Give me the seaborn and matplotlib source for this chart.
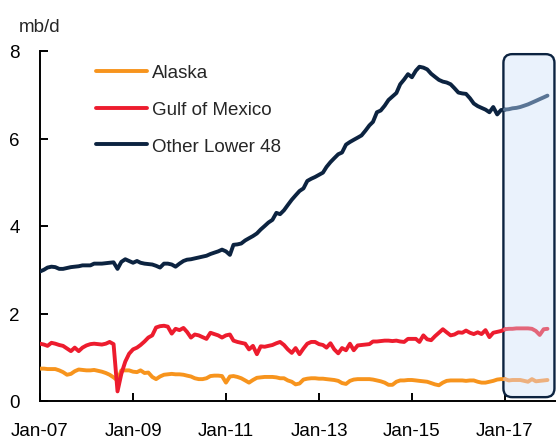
import numpy as np
import pandas as pd
import matplotlib
matplotlib.use("Agg")
import matplotlib.pyplot as plt
import matplotlib.dates as mdates
from matplotlib.patches import FancyBboxPatch
import seaborn as sns

# ---------------- data (mb/d), monthly Jan-07 .. Dec-17 ----------------
dates = pd.date_range("2007-01-01", "2017-12-01", freq="MS")
forecast_start = pd.Timestamp("2017-01-01")
series_names = ["Alaska", "Gulf of Mexico", "Other Lower 48"]

alaska = [
    0.74, 0.74, 0.73, 0.73, 0.73, 0.70, 0.66, 0.60, 0.62, 0.68, 0.72, 0.71,
    0.70, 0.70, 0.71, 0.69, 0.67, 0.64, 0.60, 0.54, 0.47, 0.70, 0.70, 0.70,
    0.67, 0.66, 0.70, 0.64, 0.65, 0.55, 0.50, 0.56, 0.60, 0.61, 0.62, 0.61,
    0.61, 0.60, 0.58, 0.56, 0.52, 0.50, 0.50, 0.52, 0.57, 0.58, 0.58, 0.57,
    0.42, 0.56, 0.57, 0.55, 0.52, 0.47, 0.42, 0.48, 0.53, 0.54, 0.55, 0.55,
    0.55, 0.54, 0.52, 0.52, 0.47, 0.44, 0.38, 0.40, 0.49, 0.51, 0.52, 0.52,
    0.51, 0.51, 0.50, 0.49, 0.48, 0.46, 0.41, 0.39, 0.46, 0.49, 0.50, 0.50,
    0.50, 0.50, 0.49, 0.47, 0.45, 0.42, 0.37, 0.37, 0.44, 0.47, 0.47, 0.48,
    0.48, 0.47, 0.46, 0.45, 0.44, 0.41, 0.38, 0.36, 0.42, 0.46, 0.47, 0.47,
    0.47, 0.47, 0.46, 0.47, 0.47, 0.44, 0.42, 0.42, 0.44, 0.46, 0.49, 0.50,
    0.50, 0.47, 0.48, 0.48, 0.48, 0.46, 0.44, 0.50, 0.45, 0.46, 0.47, 0.48,
]

gulf = [
    1.31, 1.29, 1.26, 1.33, 1.31, 1.28, 1.26, 1.20, 1.14, 1.22, 1.14, 1.22,
    1.27, 1.30, 1.31, 1.30, 1.29, 1.31, 1.35, 1.30, 0.22, 0.62, 0.90, 1.08,
    1.18, 1.22, 1.28, 1.36, 1.45, 1.50, 1.68, 1.71, 1.72, 1.70, 1.54, 1.65,
    1.62, 1.67, 1.58, 1.45, 1.52, 1.50, 1.46, 1.42, 1.56, 1.53, 1.50, 1.45,
    1.50, 1.52, 1.38, 1.35, 1.33, 1.31, 1.18, 1.26, 1.07, 1.25, 1.24, 1.26,
    1.28, 1.32, 1.35, 1.28, 1.18, 1.10, 1.21, 1.07, 1.20, 1.31, 1.35, 1.35,
    1.30, 1.28, 1.22, 1.32, 1.18, 1.09, 1.21, 1.16, 1.31, 1.16, 1.27, 1.28,
    1.29, 1.30, 1.36, 1.36, 1.37, 1.38, 1.38, 1.37, 1.38, 1.36, 1.35, 1.42,
    1.42, 1.42, 1.35, 1.50, 1.41, 1.39, 1.48, 1.56, 1.64, 1.57, 1.50, 1.52,
    1.57, 1.56, 1.61, 1.56, 1.53, 1.57, 1.53, 1.62, 1.46, 1.56, 1.58, 1.60,
    1.64, 1.65, 1.65, 1.66, 1.66, 1.66, 1.66, 1.65, 1.60, 1.51, 1.64, 1.65,
]

other_lower48 = [
    2.96, 3.00, 3.05, 3.07, 3.06, 3.02, 3.02, 3.04, 3.06, 3.07, 3.08, 3.10,
    3.10, 3.10, 3.14, 3.14, 3.14, 3.15, 3.16, 3.17, 3.02, 3.18, 3.24, 3.20,
    3.16, 3.20, 3.16, 3.14, 3.13, 3.12, 3.09, 3.05, 3.14, 3.14, 3.12, 3.07,
    3.14, 3.20, 3.23, 3.24, 3.26, 3.28, 3.30, 3.32, 3.36, 3.39, 3.42, 3.46,
    3.42, 3.34, 3.57, 3.58, 3.60, 3.67, 3.72, 3.77, 3.83, 3.92, 4.00, 4.08,
    4.14, 4.30, 4.27, 4.36, 4.48, 4.60, 4.70, 4.80, 4.86, 5.03, 5.08, 5.12,
    5.17, 5.22, 5.35, 5.46, 5.55, 5.64, 5.68, 5.86, 5.92, 5.97, 6.02, 6.07,
    6.18, 6.30, 6.38, 6.60, 6.64, 6.75, 6.88, 6.96, 7.04, 7.24, 7.35, 7.47,
    7.40, 7.55, 7.64, 7.62, 7.58, 7.48, 7.41, 7.34, 7.30, 7.28, 7.24, 7.15,
    7.05, 7.03, 7.02, 6.92, 6.80, 6.74, 6.70, 6.66, 6.60, 6.72, 6.55, 6.65,
    6.66, 6.67, 6.69, 6.70, 6.72, 6.75, 6.78, 6.82, 6.86, 6.90, 6.94, 6.98,
]

y_ticks = [0, 2, 4, 6, 8]
x_tick_dates = pd.date_range("2007-01-01", "2017-01-01", freq="24MS")

# ---------------- styling ----------------
dark_colors = ["#F7941D", "#ED1C2E", "#0C2340"]
light_colors = ["#EDB07E", "#E3667A", "#5A7595"]

sns.set_style("ticks")
plt.rcParams["font.family"] = ["Liberation Sans Narrow", "Liberation Sans", "DejaVu Sans"]
FS = 13.5
LW = 2.8

df = pd.concat([
    pd.DataFrame({"date": dates, "value": vals, "series": name})
    for name, vals in zip(series_names, [alaska, gulf, other_lower48])
], ignore_index=True)
hist = df[df["date"] <= forecast_start]
fcst = df[df["date"] >= forecast_start]

fig = plt.figure(figsize=(5.56, 4.39), dpi=100)
ax = fig.add_axes([40 / 556, 37 / 439, 516 / 556, 350 / 439])

xmin = pd.Timestamp("2007-01-01")
xmax = pd.Timestamp("2018-02-06")
ax.set_xlim(xmin, xmax)
ax.set_ylim(0, 8)

# forecast box (rounded, in axes coordinates)
x0n, x1n, fsn = mdates.date2num([xmin, xmax, forecast_start])
bx0 = (fsn - x0n) / (x1n - x0n) - 0.003
aspect = 516 / 350
box = FancyBboxPatch((bx0, 0.011), 0.997 - bx0, 0.98,
                     boxstyle="round,pad=0,rounding_size=0.017",
                     mutation_aspect=aspect, transform=ax.transAxes,
                     facecolor="#EAF2FC", edgecolor="#0C2340", linewidth=1.7,
                     zorder=1, clip_on=False)
ax.add_patch(box)

sns.lineplot(data=hist, x="date", y="value", hue="series", hue_order=series_names,
             palette=dark_colors, linewidth=LW, legend=False, ax=ax, zorder=3)
handles = list(ax.lines[:3])
sns.lineplot(data=fcst, x="date", y="value", hue="series", hue_order=series_names,
             palette=light_colors, linewidth=LW, legend=False, ax=ax, zorder=3)

ax.legend(handles, series_names, loc="upper left", bbox_to_anchor=(0.108, 0.962),
          frameon=False, fontsize=FS, handlelength=2.72, handletextpad=0.27,
          labelspacing=1.05, borderpad=0, borderaxespad=0)

ax.set_xlabel("")
ax.set_ylabel("")
ax.set_yticks(y_ticks)
ax.set_xticks(x_tick_dates)
ax.set_xticklabels([d.strftime("%b-%y") for d in x_tick_dates])
ax.tick_params(axis="both", direction="in", length=6, width=1.4, colors="black",
               labelsize=FS)
ax.tick_params(axis="y", pad=14.5)
ax.tick_params(axis="x", pad=15)

sns.despine(ax=ax)
for s in ["left", "bottom"]:
    ax.spines[s].set_linewidth(1.4)
    ax.spines[s].set_color("black")

fig.text(19 / 556, 1 - 27 / 439, "mb/d", ha="left", va="center", fontsize=FS)

fig.savefig("out.png", dpi=100)
